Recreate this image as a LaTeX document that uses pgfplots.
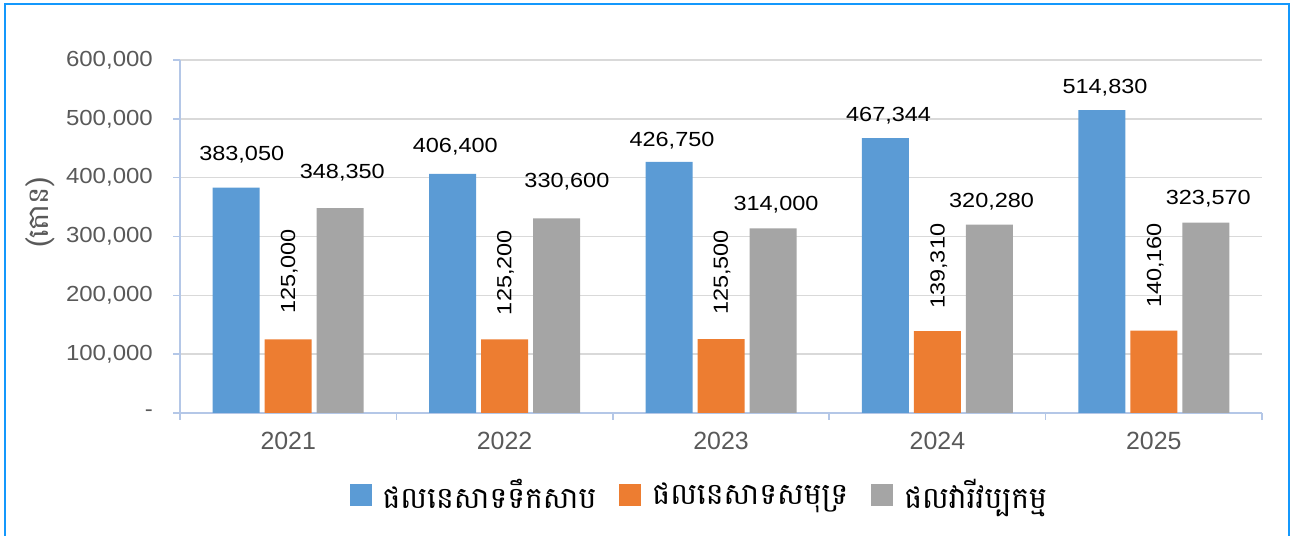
\documentclass[border=0pt]{standalone}
\usepackage{pgfplots}
\usepackage{pgfplotstable}
\pgfplotsset{compat=1.18}
\usepackage{fontspec}
\setmainfont{Liberation Sans}
\newfontfamily\labfont{Liberation Sans}[FakeStretch=1.15]
\newfontfamily\tickfont{Liberation Sans}[FakeStretch=1.1]
\newfontfamily\khmer[Script=Khmer]{Battambang}
\definecolor{cblue}{RGB}{91,155,213}
\definecolor{corange}{RGB}{237,125,49}
\definecolor{cgray}{RGB}{165,165,165}
\definecolor{axisblue}{RGB}{180,199,231}
\definecolor{gridgray}{RGB}{217,217,217}
\definecolor{tickgray}{RGB}{89,89,89}
\definecolor{framecol}{RGB}{20,152,252}

\pgfplotstableread{
x y dx dy
0 383050 5.5 27.6
1 406400 2.7 21
2 426750 3 15.7
3 467344 3.2 16.7
4 514830 3.2 17
}\tblblue
\pgfplotstableread{
x y dx dy
0 125000 1 25.4
1 125200 1 24.1
2 125500 1 24.1
3 139310 1.5 22.1
4 140160 1.5 22.4
}\tblorange
\pgfplotstableread{
x y dx dy
0 348350 2.1 29.7
1 330600 10.3 31
2 314000 3 17.3
3 320280 2.2 17
4 323570 2.5 17.7
}\tblgray

\pgfplotsset{
  labnum/.style={
    point meta=y,
    visualization depends on={\thisrow{dx} \as \ldx},
    visualization depends on={\thisrow{dy} \as \ldy},
    nodes near coords={\labfont\fontsize{20.5}{22}\selectfont\pgfmathprintnumber[fixed,precision=0,1000 sep={,},assume math mode=true]{\pgfplotspointmeta}},
  },
  hlab/.style={labnum,
    every node near coord/.append style={anchor=base, inner sep=0pt, text=black, xshift=\ldx bp, yshift=\ldy bp}},
  vlab/.style={labnum,
    every node near coord/.append style={anchor=west, inner sep=0pt, text=black, xshift=\ldx bp, yshift=\ldy bp, rotate=90}},
}

\begin{document}
\begin{tikzpicture}[x=1bp,y=1bp]
\path[use as bounding box] (0,0) rectangle (1298,536);
\draw[framecol, line width=2bp] (5,-10) -- (5,531.7) -- (1289.3,531.7) -- (1289.3,-10);
\begin{axis}[
  at={(180bp,123bp)}, anchor=south west,
  scale only axis, width=1082bp, height=353bp,
  clip=false,
  ybar=5bp, bar width=47bp,
  xmin=-0.5, xmax=4.5, ymin=0, ymax=600000,
  scaled y ticks=false,
  axis x line*=bottom, axis y line*=left,
  axis line style={draw=axisblue, line width=1.5bp},
  tick style={draw=axisblue, line width=1.5bp},
  tick align=outside, major tick length=7bp,
  xtick={-0.5,0.5,1.5,2.5,3.5,4.5},
  xticklabels={2021,2022,2023,2024,2025,{}},
  x tick label style={font=\fontsize{25}{28}\selectfont, text=tickgray, anchor=north, inner sep=0pt, xshift=108.2bp, yshift=-12bp},
  ytick={0,100000,200000,300000,400000,500000,600000},
  yticklabels={-,{100,000},{200,000},{300,000},{400,000},{500,000},{600,000}},
  y tick label style={font=\tickfont\fontsize{21.9}{24}\selectfont, text=tickgray, anchor=east, inner sep=0pt, xshift=-20bp},
  ymajorgrids, grid style={draw=gridgray, line width=1.5bp},
  ylabel={\khmer (តោន)},
  ylabel style={font=\fontsize{29}{32}\selectfont, text=tickgray, at={(axis description cs:-0.1294,0.567)}, anchor=center, inner sep=0pt},
  legend columns=3,
  legend image code/.code={\fill[#1] (0bp,-11bp) rectangle (22bp,11bp);},
  legend style={at={(0.479,-0.232)}, anchor=center, draw=none, fill=none,
    font=\khmer\fontsize{30}{34}\selectfont, inner sep=0pt,
    nodes={inner sep=0pt},
    /tikz/every odd column/.append style={column sep=11bp},
    /tikz/every even column/.append style={column sep=23bp}},
]
\addplot[fill=cblue, draw=none, hlab] table[x=x,y=y] {\tblblue};
\addplot[fill=corange, draw=none, vlab] table[x=x,y=y] {\tblorange};
\addplot[fill=cgray, draw=none, hlab] table[x=x,y=y] {\tblgray};
\legend{ផលនេសាទទឹកសាប, ផលនេសាទសមុទ្រ, ផលវារីវប្បកម្ម}
\end{axis}
\end{tikzpicture}
\end{document}
